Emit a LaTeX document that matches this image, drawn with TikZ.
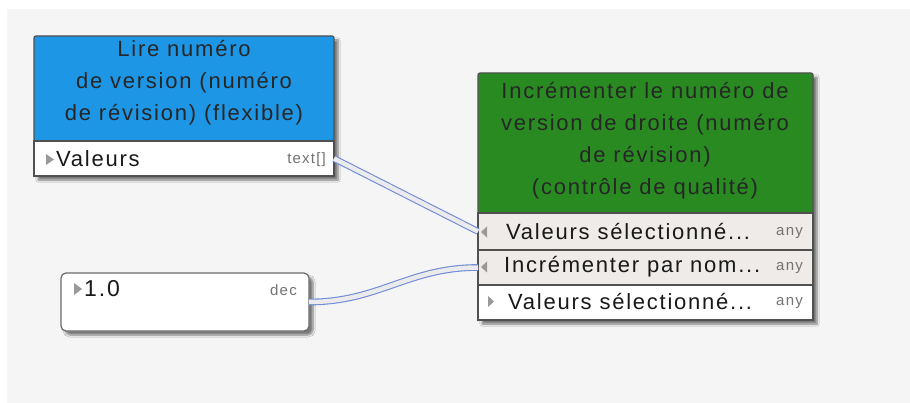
\documentclass[tikz,border=0pt]{standalone}
\usepackage{fontspec}
\setmainfont{Liberation Sans}[LetterSpace=8]
\usetikzlibrary{shadows.blur}
\definecolor{bluehead}{RGB}{30,150,230}
\definecolor{greenhead}{RGB}{42,138,34}
\definecolor{rowfill}{RGB}{238,235,232}
\definecolor{bordercol}{RGB}{80,80,80}
\definecolor{wireblue}{RGB}{110,140,215}
\definecolor{wirefill}{RGB}{235,235,238}
\definecolor{bgcol}{RGB}{245,245,245}
\tikzset{
  headbox/.style={draw=bordercol, line width=1.2pt, anchor=north west, inner sep=0pt, outer sep=0pt, rounded corners=2pt},
  portrow/.style={draw=bordercol, line width=1.2pt, anchor=north west, inner sep=0pt, outer sep=0pt},
  titletext/.style={align=center, font=\fontsize{22}{32}\selectfont, text=black!85, inner sep=0pt},
  porttext/.style={anchor=west, font=\fontsize{22}{25}\selectfont, inner sep=0pt, text=black!90},
  typetext/.style={anchor=east, font=\fontsize{15}{16}\selectfont, text=black!55, inner sep=0pt},
  wire/.style={draw=wireblue, line width=1.1pt, double=wirefill, double distance=4.5pt},
  tri/.style={fill=black!40, draw=none},
  shadowbox/.style={blur shadow={shadow xshift=4pt, shadow yshift=-4pt, shadow blur steps=6, shadow opacity=50}}
}
\begin{document}
\begin{tikzpicture}[x=1pt,y=-1pt]
\useasboundingbox (0,0) rectangle (910,403);
\fill[white] (0,0) rectangle (910,403);
\fill[bgcol] (7,9) rectangle (910,403);

% box corners
\coordinate (bNW) at (34,36);
\coordinate (bSE) at (334,176);
\coordinate (gNW) at (478,73);
\coordinate (gSE) at (813,320);
\coordinate (cNW) at (61,273);
\coordinate (cSE) at (309,331);

% shadows
\fill[shadowbox, white] (bNW) rectangle (bSE);
\fill[shadowbox, white] (gNW) rectangle (gSE);
\fill[shadowbox, white, rounded corners=5pt] (cNW) rectangle (cSE);

% Blue box
\node[headbox, fill=bluehead, minimum width=300pt, minimum height=105pt] (bhead) at (bNW) {};
\node[portrow, fill=white, minimum width=300pt, minimum height=35pt] (bport) at (bhead.south west) {};
\node[titletext] (btitle) at (184,83) {Lire numéro\\de version (numéro\\de révision) (flexible)};
\node[porttext] (bval) at (56,159) {Valeurs};
\node[typetext] (btype) at (326,160) {text[]};
\fill[tri] (46,154) -- (54,159.5) -- (46,165) -- cycle;

% Green box
\node[headbox, fill=greenhead, minimum width=335pt, minimum height=140pt] (ghead) at (gNW) {};
\node[portrow, fill=rowfill, minimum width=335pt, minimum height=37pt] (g1) at (ghead.south west) {};
\node[portrow, fill=rowfill, minimum width=335pt, minimum height=35pt] (g2) at (g1.south west) {};
\node[portrow, fill=white, minimum width=335pt, minimum height=35pt] (g3) at (g2.south west) {};
\node[titletext] (gtitle) at (645,141) {Incrémenter le numéro de\\version de droite (numéro\\de révision)\\(contrôle de qualité)};
\node[porttext] (g1t) at (506,232) {Valeurs sélectionné...};
\node[typetext] (g1a) at (803,233) {any};
\node[porttext] (g2t) at (504,267) {Incrémenter par nom...};
\node[typetext] (g2a) at (803,268) {any};
\node[porttext] (g3t) at (508,302) {Valeurs sélectionné...};
\node[typetext] (g3a) at (803,303) {any};
\fill[tri] (487,226.5) -- (481,232) -- (487,237.5) -- cycle;
\fill[tri] (487,261.5) -- (481,267) -- (487,272.5) -- cycle;
\fill[tri] (488,296) -- (494,301.5) -- (488,307) -- cycle;

% Constant box
\node[draw=bordercol!85, line width=1.2pt, rounded corners=5pt, fill=white, anchor=north west, minimum width=248pt, minimum height=58pt, inner sep=0pt, outer sep=0pt] (cbox) at (cNW) {};
\node[porttext, font=\fontsize{23}{25}\selectfont] (cval) at (84,289) {1.0};
\node[typetext] (ctype) at (297,290) {dec};
\fill[tri] (74,283) -- (82,289) -- (74,295) -- cycle;

% Wires
\draw[wire] (bport.east) -- (g1.west);
\draw[wire] (cbox.east) .. controls +(70,0) and +(-70,0) .. (g2.west);
\end{tikzpicture}
\end{document}
